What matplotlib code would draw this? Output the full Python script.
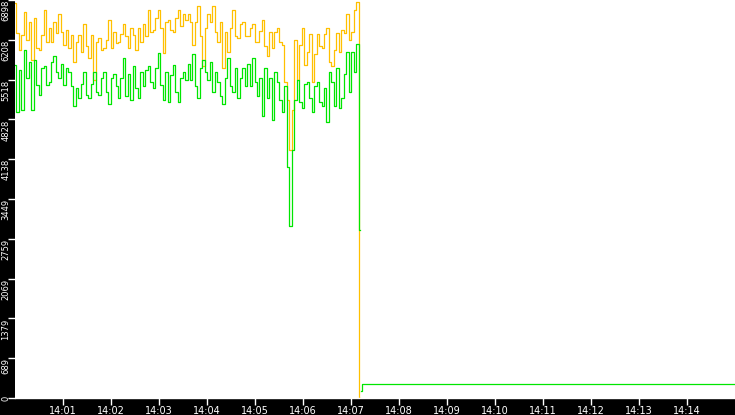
import pandas as pd
import matplotlib
matplotlib.use("Agg")
import matplotlib.pyplot as plt

# samples from 14:00:00 to 14:07:11
orange = [6846, 6326, 6031, 6291, 6690, 6205, 6517, 5858, 6586, 6066,
          6031, 6291, 6725, 6170, 6413, 6170, 6517, 6326, 6655, 6343,
          6118, 6378, 6066, 6291, 5823, 6170, 6291, 5997, 6482, 6101,
          5893, 6291, 5512, 6170, 6239, 6031, 6066, 6205, 6551, 6066,
          6343, 6153, 6170, 6309, 6482, 6274, 6066, 6413, 6291, 6031,
          6413, 6170, 6482, 6274, 6725, 6343, 6378, 6586, 6725, 6413,
          5979, 6517, 6551, 6378, 6343, 6586, 6725, 6447, 6655, 6551,
          6655, 6517, 6118, 6517, 6794, 6274, 5754, 6413, 6655, 6517,
          6794, 6343, 6170, 6517, 5719, 6343, 5997, 6413, 6725, 6274,
          6239, 6482, 6517, 6274, 6274, 6413, 6482, 6170, 6170, 6361,
          6551, 6101, 5927, 6343, 6066, 6343, 6413, 6170, 6118, 5477,
          5165, 4298, 4991, 6205, 5512, 6118, 6413, 5771, 5997, 6309,
          5477, 5962, 6309, 6101, 6066, 6309, 6413, 5823, 5754, 6031,
          6326, 5997, 6378, 6326, 6655, 6205, 6343, 6725, 6863, 0]

green = [5771, 4957, 5685, 4991, 6031, 5546, 5823, 4991, 5858, 5425,
         5251, 5719, 5754, 5425, 5477, 5823, 5927, 5650, 5546, 5789,
         5425, 5719, 5650, 5407, 5061, 5373, 5199, 5442, 5650, 5251,
         5199, 5442, 5650, 5303, 5251, 5546, 5650, 5303, 5095, 5546,
         5615, 5407, 5199, 5546, 5893, 5234, 5615, 5165, 5754, 5373,
         5199, 5650, 5407, 5685, 5754, 5477, 5373, 5719, 5979, 5425,
         5165, 5650, 5130, 5598, 5771, 5303, 5130, 5546, 5650, 5512,
         5789, 5512, 5962, 5407, 5199, 5719, 5858, 5650, 5512, 5823,
         5303, 5650, 5477, 5234, 5095, 5546, 5893, 5407, 5303, 5719,
         5199, 5546, 5719, 5407, 5789, 5407, 5893, 5477, 5234, 5546,
         4887, 5719, 5199, 5546, 4818, 5650, 5477, 5165, 4957, 5407,
         4004, 2981, 4298, 5165, 5512, 5130, 5026, 5442, 5477, 5199,
         4957, 5407, 5477, 5130, 5061, 5373, 4783, 5650, 5477, 5061,
         5719, 5026, 5199, 5615, 5997, 5303, 5997, 5650, 6135, 2912]

tail_times = ["14:07:13", "14:07:14", "14:15:00"]
tail_green = [121, 243, 243]

y_ticks = [0, 689, 1379, 2069, 2759, 3449, 4138, 4828, 5518, 6208, 6898]
x_labels = ["14:01", "14:02", "14:03", "14:04", "14:05", "14:06", "14:07",
            "14:08", "14:09", "14:10", "14:11", "14:12", "14:13", "14:14"]

day = "2024-01-01 "
t = pd.date_range(day + "14:00:00", day + "14:07:11.25", periods=len(orange))
t_tail = pd.to_datetime([day + s for s in tail_times])
x_ticks = pd.to_datetime([day + s for s in x_labels])

W, H = 735, 415
fig = plt.figure(figsize=(W / 100, H / 100), dpi=100, facecolor="black")
ax = fig.add_axes([15 / W, 17 / H, 720 / W, 398 / H])
ax.set_facecolor("white")

ax.plot(t, orange, color="#ffc000", lw=0.9, drawstyle="steps-mid")
ax.plot(t, green, color="#00e600", lw=0.9, drawstyle="steps-mid")
ax.plot(t_tail, tail_green, color="#00e600", lw=0.9, drawstyle="steps-post")

ax.set_xlim(pd.Timestamp(day + "14:00:00"), pd.Timestamp(day + "14:15:00"))
ax.set_ylim(0, 6898)

for s in ["top", "right", "left"]:
    ax.spines[s].set_visible(False)
ax.spines["bottom"].set_color("white")
ax.spines["bottom"].set_linewidth(1.0)

ax.set_xticks(x_ticks)
ax.set_xticklabels(x_labels)
ax.set_yticks(y_ticks)
ax.set_yticklabels([str(v) for v in y_ticks], rotation=90, va="top")
ax.get_yticklabels()[0].set_va("center")

ax.tick_params(axis="x", colors="white", length=5, width=1, labelsize=7, pad=1)
ax.tick_params(axis="y", colors="white", length=5, width=1, labelsize=6, pad=-1.5)

fig.savefig("out.png", dpi=100, facecolor="black")
